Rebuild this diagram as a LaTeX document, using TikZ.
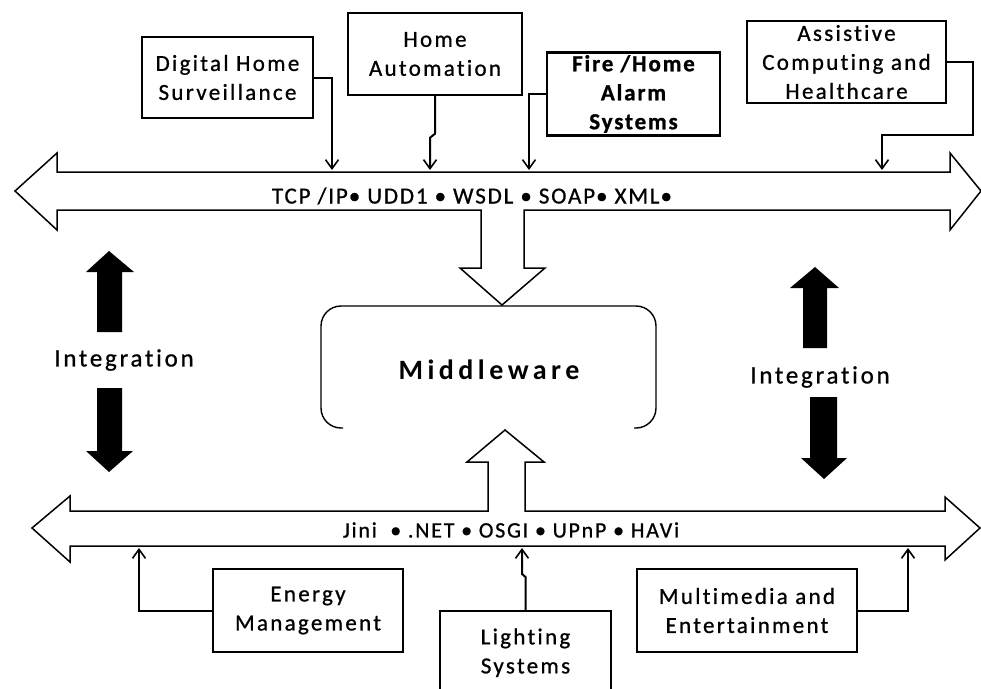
\documentclass[tikz,border=0pt]{standalone}
\usepackage{fontspec}
\usetikzlibrary{arrows.meta}
\setmainfont{Carlito}
\newfontfamily\lbl{Carlito}[LetterSpace=10, Ligatures=NoCommon, FakeBold=0.8]
\newfontfamily\lblbus{Carlito}[LetterSpace=8, Ligatures=NoCommon, FakeBold=0.8]
\newfontfamily\lblint{Carlito}[LetterSpace=11, Ligatures=NoCommon, FakeBold=0.8]
\newfontfamily\lblheavy{Carlito Bold}[LetterSpace=8, Ligatures=NoCommon, FakeBold=1]
\newfontfamily\lblmid{Carlito Bold}[LetterSpace=16, Ligatures=NoCommon]

\tikzset{
  box/.style={draw, line width=1.5pt, align=center, inner sep=0pt,
    font=\lbl\fontsize{23}{29}\selectfont},
  feed/.style={line width=2pt,
    -{Straight Barb[length=9pt,width=13pt,line width=1.6pt]}},
  bus/.style={draw, line width=1.5pt, line join=miter, fill=white},
  bigarrow/.style={fill=black, draw=none},
  bustext/.style={font=\lblbus\fontsize{23}{25}\selectfont, inner sep=0pt},
  bustextlow/.style={font=\lblbus\fontsize{22}{25}\selectfont, inner sep=0pt},
  inttext/.style={font=\lblint\fontsize{25}{28}\selectfont, inner sep=0pt},
}

\begin{document}
\begin{tikzpicture}[x=1pt,y=-1pt]
\useasboundingbox (0,0) rectangle (981,688);
\fill[white] (0,0) rectangle (981,688);

% upper bus (web-service protocols) with its feed down into the middleware
\draw[bus] (481,210) -- (57,210) -- (57,230) -- (15,191) -- (57,153) -- (57,172)
  -- (950,172) -- (950,153) -- (981,191) -- (950,230) -- (950,210)
  -- (524,210) -- (524,268) -- (545,268) -- (502,305) -- (460,268)
  -- (481,268) -- cycle;

% lower bus (device protocols) with its feed up into the middleware
\draw[bus] (488,511) -- (70,511) -- (70,496) -- (32,528) -- (70,562) -- (70,546)
  -- (945,546) -- (945,560) -- (980,528) -- (945,497) -- (945,511)
  -- (525,511) -- (525,462) -- (544,462) -- (505,430) -- (467,462)
  -- (488,462) -- cycle;

\node[bustext] (tbus) at (472,196) {TCP /IP\kern1pt• UDD1 • WSDL • SOAP\kern1pt• XML\kern1pt•};
\node[bustextlow] (bbus) at (511,530) {Jini~~• .NET • OSGI • UPnP • HAVi};

% middleware block, open along its lower edge
\draw[line width=1.4pt, rounded corners=20pt]
  (343,428) -- (321,428) -- (321,306) -- (656,306) -- (656,428) -- (634,428);
\node[font=\lblmid\fontsize{28}{32}\selectfont, inner sep=0pt] (mw) at (489,370) {Middleware};

% integration arrows
\fill[bigarrow] (97,332) -- (97,272) -- (86,272) -- (109,251) -- (134,272)
  -- (122,272) -- (122,332) -- cycle;
\fill[bigarrow] (97,388) -- (97,451) -- (86,451) -- (109,472) -- (133,451)
  -- (122,451) -- (122,388) -- cycle;
\node[inttext] (intl) at (124,360) {Integration};

\fill[bigarrow] (803,348) -- (803,288) -- (790,288) -- (815,267) -- (839,288)
  -- (827,288) -- (827,348) -- cycle;
\fill[bigarrow] (810,397) -- (810,458) -- (801,458) -- (824,479) -- (847,458)
  -- (837,458) -- (837,397) -- cycle;
\node[inttext] (intr) at (820,377) {Integration};

% application boxes above the upper bus
\node[box, minimum width=171pt, minimum height=81pt] (dhs) at (227.5,77.5) {Digital Home\\Surveillance};
\node[box, minimum width=174pt, minimum height=82pt] (ha) at (435,54) {Home\\Automation};
\node[box, line width=2.4pt, font=\lblheavy\fontsize{23}{29}\selectfont,
  minimum width=173pt, minimum height=83pt] (fire) at (633.5,94) {Fire /Home\\Alarm\\Systems};
\node[box, minimum width=199pt, minimum height=82pt] (ach) at (846.5,62) {Assistive\\Computing and\\Healthcare};

% application boxes below the lower bus
\node[box, minimum width=190pt, minimum height=83pt] (en) at (308,610.5) {Energy\\Management};
\node[box, minimum width=171pt, minimum height=84pt, anchor=north] (li) at (525.5,610) {Lighting\\Systems};
\node[box, minimum width=220pt, minimum height=83pt] (mm) at (747,610.5) {Multimedia and\\Entertainment};

% attachment points on the buses
\coordinate (dhsIn) at (332,170);
\coordinate (haIn) at (430,170);
\coordinate (fireIn) at (529,170);
\coordinate (achIn) at (882,170);
\coordinate (enIn) at (139,548);
\coordinate (liIn) at (522,548);
\coordinate (mmIn) at (908,548);

% feeds into the buses
\draw[feed] (dhs.east) -| (dhsIn);
\draw[feed] (ha.south) -- ++(0,38) -- ++(-5,4) -- (haIn);
\draw[feed] (fire.west) -| (fireIn);
\draw[feed] (ach.east) -- ++(26,0) -- ++(0,73) -| (achIn);
\draw[feed] (en.west) -| (enIn);
\draw[feed] (li.north) -- ++(0,-33) -- ++(-3.5,-3) -- (liIn);
\draw[feed] (mm.east) -| (mmIn);
\end{tikzpicture}
\end{document}
